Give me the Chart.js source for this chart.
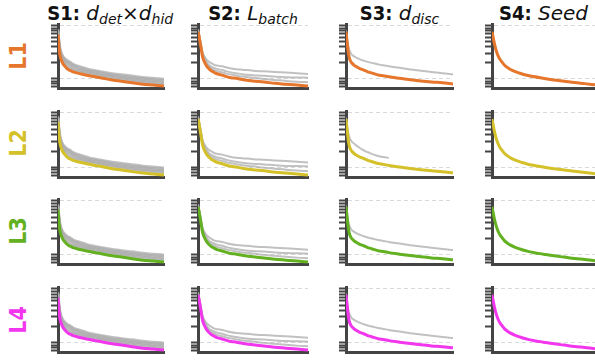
<!DOCTYPE html>
<html>
<head>
<meta charset="utf-8">
<script src="https://cdn.jsdelivr.net/npm/chart.js@4.4.1/dist/chart.umd.min.js"></script>
<style>
  html, body { margin:0; padding:0; background:#fff; width:595px; height:360px; overflow:hidden; position:relative; }
  .cell { position:absolute; }
  .title { position:absolute; top:1px; transform:translateX(-50%); white-space:nowrap;
           font-family:"DejaVu Sans", sans-serif; font-size:20px; color:#111; line-height:24px; }
  .title b { font-family:"DejaVu Sans Condensed","DejaVu Sans",sans-serif; font-stretch:condensed; font-weight:bold; }
  .title i { font-style:italic; }
  .title sub { font-style:italic; font-size:14px; vertical-align:-4px; line-height:0; }
  .rowlab { position:absolute; transform:translate(-50%,-50%) rotate(-90deg); white-space:nowrap;
            font-family:"DejaVu Sans Condensed","DejaVu Sans",sans-serif; font-stretch:condensed; font-weight:bold; font-size:23px; }
</style>
</head>
<body>
<script>
// ---------- data ----------
const steps = [0,1,2,3,4,5,6,8,10,12,15,18,22,26,30,35,40,50,60,70,80,90,100];
const yTicks = [0.7,0.8,0.9,1,2,3,4,5,6,7,8,9,10];
const rowLabels = ['L1','L2','L3','L4'];

// S1: d_det x d_hid
const s1Main  = [6.9,3.76,2.69,2.28,2.04,1.87,1.77,1.59,1.48,1.42,1.34,1.29,1.23,1.18,1.14,1.09,1.05,0.96,0.90,0.84,0.79,0.76,0.73];
const s1GrayA = [8.64,5.39,3.76,3.18,2.84,2.62,2.48,2.28,2.15,2.04,1.87,1.77,1.68,1.59,1.50,1.44,1.38,1.27,1.20,1.14,1.07,1.03,0.99];
const s1GrayB = [8.4,4.96,3.55,3.01,2.69,2.48,2.34,2.15,2.04,1.93,1.77,1.68,1.59,1.50,1.42,1.37,1.32,1.21,1.14,1.07,1.02,0.97,0.94];
const s1GrayC = [8.18,4.8,3.36,2.84,2.54,2.34,2.22,2.04,1.93,1.82,1.68,1.59,1.50,1.42,1.36,1.31,1.25,1.15,1.08,1.02,0.96,0.92,0.88];
const s1GrayD = [7.95,4.44,3.1,2.62,2.34,2.15,2.04,1.87,1.77,1.68,1.54,1.48,1.42,1.34,1.30,1.24,1.19,1.10,1.03,0.96,0.91,0.87,0.84];
const s1GrayE = [7.73,4.2,2.93,2.48,2.21,2.04,1.93,1.72,1.61,1.54,1.46,1.40,1.34,1.29,1.23,1.18,1.14,1.05,0.97,0.91,0.86,0.82,0.79];
// S2: L_batch
const s2Main  = [7.73,6.19,4.69,3.55,2.69,2.28,2.04,1.72,1.54,1.42,1.31,1.23,1.17,1.10,1.05,1.02,0.97,0.91,0.87,0.82,0.79,0.76,0.73];
const s2GrayA = [8.64,6.92,5.39,4.2,3.25,2.84,2.62,2.28,2.10,1.98,1.82,1.77,1.72,1.63,1.56,1.51,1.48,1.42,1.38,1.34,1.31,1.27,1.23];
const s2GrayB = [8.4,6.7,5.2,3.95,3.1,2.62,2.41,2.04,1.82,1.70,1.59,1.52,1.46,1.38,1.32,1.27,1.22,1.17,1.14,1.10,1.07,1.06,1.05];
const s2GrayC = [8.18,6.55,4.96,3.76,2.84,2.41,2.15,1.87,1.68,1.56,1.46,1.38,1.32,1.25,1.20,1.15,1.10,1.05,0.99,0.95,0.91,0.88,0.86];
// S3: d_disc
const s3Main  = [7.73,4.96,3.36,2.54,2.21,2.04,1.93,1.77,1.68,1.59,1.50,1.42,1.32,1.25,1.18,1.14,1.09,1.02,0.96,0.91,0.87,0.84,0.80];
const s3Gray  = [8.18,5.86,4.2,3.55,3.18,2.93,2.77,2.62,2.48,2.38,2.25,2.15,2.04,1.96,1.87,1.80,1.72,1.61,1.50,1.42,1.34,1.27,1.22];
const s3GrayShort = [8.18,5.86,4.4,3.7,3.3,3.05,2.9,2.7,2.5,2.35,2.15,2.0,1.85,1.72,1.62,1.55,1.50,null,null,null,null,null,null];
// S4: Seed
const s4Main  = [7.73,6.19,4.96,4.08,3.45,3.01,2.69,2.28,2.04,1.82,1.63,1.50,1.38,1.29,1.22,1.15,1.10,1.02,0.95,0.90,0.85,0.81,0.77];

// ---------- styling / layout ----------
const rowColors = ['#e5762c','#d4c12a','#63b021','#f236ee'];
const grayColor = 'rgba(172,172,172,0.75)';
const colAxisX = [57.5, 198, 346, 492];
const colRight = [163, 308, 453, 595];
const rowTop = [24, 111, 199, 287];
const rowBottom = [88, 177, 264, 352];
const rowCenter = [56, 143, 231, 320];
const titleHTML = [
  '<b>S1:</b> <i>d</i><sub>det</sub>×<i>d</i><sub>hid</sub>',
  '<b>S2:</b> <i>L</i><sub>batch</sub>',
  '<b>S3:</b> <i>d</i><sub>disc</sub>',
  '<b>S4:</b> <i>Seed</i>'
];

function pts(arr){ return steps.map((x,i)=>({x:x, y:arr[i]})); }

function grayFor(col,row){
  if (col===0) return [s1GrayA,s1GrayB,s1GrayC,s1GrayD,s1GrayE];
  if (col===1) return [s2GrayA,s2GrayB,s2GrayC];
  if (col===2) return [row===1 ? s3GrayShort : s3Gray];
  return [];
}
const mains = [s1Main,s2Main,s3Main,s4Main];

for (let c=0;c<4;c++){
  const d=document.createElement('div');
  d.className='title';
  d.style.left=((colAxisX[c]+colRight[c])/2)+'px';
  d.innerHTML=titleHTML[c];
  document.body.appendChild(d);
}
for (let r=0;r<4;r++){
  const d=document.createElement('div');
  d.className='rowlab';
  d.style.left='18px';
  d.style.top=rowCenter[r]+'px';
  d.style.color=rowColors[r];
  d.textContent=rowLabels[r];
  document.body.appendChild(d);
}

const YW = 12;
for (let r=0;r<4;r++){
  for (let c=0;c<4;c++){
    const left = colAxisX[c]-YW, top = rowTop[r]-2;
    const w = Math.round(colRight[c]-colAxisX[c]+YW+2), h = Math.round(rowBottom[r]-rowTop[r]+4);
    const cv=document.createElement('canvas');
    cv.className='cell';
    cv.width=w; cv.height=h;
    cv.style.left=left+'px'; cv.style.top=top+'px';
    cv.style.width=w+'px'; cv.style.height=h+'px';
    document.body.appendChild(cv);
    const datasets=[{
      data:pts(mains[c]), borderColor:rowColors[r], borderWidth:3, pointRadius:0,
      cubicInterpolationMode:'monotone', fill:false
    }];
    grayFor(c,r).forEach(g=>datasets.push({
      data:pts(g), borderColor:grayColor, borderWidth:(c===0?2.5:2), pointRadius:0,
      cubicInterpolationMode:'monotone', fill:false, spanGaps:false
    }));
    new Chart(cv,{
      type:'line',
      data:{datasets},
      options:{
        responsive:false, animation:false, devicePixelRatio:1,
        layout:{padding:{top:2,bottom:2,left:0,right:2}},
        plugins:{legend:{display:false},tooltip:{enabled:false}},
        scales:{
          x:{type:'linear', min:0, max:100,
             ticks:{display:false}, grid:{display:false, drawTicks:false},
             border:{display:true, color:'#444', width:3},
             afterFit:s=>{s.height=0;}},
          y:{type:'logarithmic', min:0.67, max:10.8,
             afterBuildTicks:s=>{s.ticks=yTicks.map(v=>({value:v}));},
             ticks:{display:false},
             grid:{drawTicks:true, tickLength:7, tickWidth:2, tickColor:'#444', tickBorderDash:[],
                   lineWidth:1,
                   color:ctx=>(ctx.tick && (ctx.tick.value===1 || ctx.tick.value===10)) ? '#d9d9d9' : 'rgba(0,0,0,0)'},
             border:{display:true, color:'#444', width:3, dash:[4,3]},
             afterFit:s=>{s.width=YW;}}
        }
      }
    });
  }
}
</script>
</body>
</html>
